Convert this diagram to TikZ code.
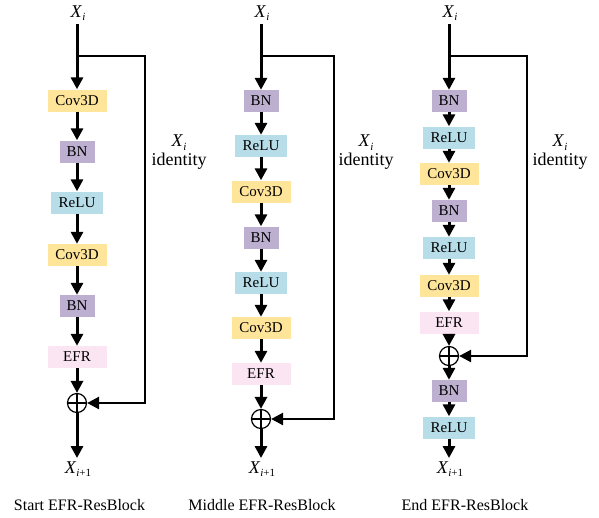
\documentclass[tikz,border=0pt]{standalone}
\usepackage{fontspec}
\setmainfont{Liberation Serif}
\usetikzlibrary{arrows.meta}

\definecolor{covy}{RGB}{255,229,154}
\definecolor{bnp}{RGB}{188,175,208}
\definecolor{relub}{RGB}{183,221,232}
\definecolor{efrp}{RGB}{251,229,243}

\tikzset{
blk/.style={rectangle,inner sep=0pt,minimum height=22pt,font=\fontsize{15}{16}\selectfont},
covbox/.style={blk,fill=covy,minimum width=59pt},
bnbox/.style={blk,fill=bnp,minimum width=35pt},
relubox/.style={blk,fill=relub,minimum width=52pt},
efrbox/.style={blk,fill=efrp,minimum width=59pt},
sumnode/.style={circle,draw,line width=1.2pt,minimum size=19pt,inner sep=0pt},
flow/.style={line width=3pt,-{Triangle[length=12pt,width=12pt]}},
idline/.style={line width=2.5pt,line join=miter,-{Triangle[length=12pt,width=12pt]}},
xlab/.style={font=\fontsize{18}{20}\selectfont,inner sep=3pt},
idlab/.style={font=\fontsize{18}{19}\selectfont,align=center},
captxt/.style={font=\fontsize{16}{18}\selectfont}
}
\newcommand{\xin}{\textit{X}\raisebox{-0.45ex}{\fontsize{11}{12}\selectfont\textit{i}}}
\newcommand{\xout}{\textit{X}\raisebox{-0.45ex}{\fontsize{11}{12}\selectfont\textit{i}+1}}

\begin{document}
\begin{tikzpicture}[x=1pt,y=-1pt]
\useasboundingbox (0,0) rectangle (599,517);

\node[xlab] (inA) at (78,13) {\xin};
\coordinate (brA) at (77,56);
\coordinate (crA) at (145,56);
\node[covbox] (covA1) at (77,100.5) {Cov3D};
\node[bnbox] (bnA1) at (77,151.5) {BN};
\node[relubox] (reluA1) at (77,202.5) {ReLU};
\node[covbox] (covA2) at (77,255) {Cov3D};
\node[bnbox] (bnA2) at (77,306) {BN};
\node[efrbox] (efrA) at (77,357) {EFR};
\node[sumnode] (sumA) at (77,403) {};
\node[xlab] (outA) at (78,469) {\xout};
\node[idlab] (idA) at (179,152) {\xin\\identity};
\node[captxt] (capA) at (79.5,505) {Start EFR-ResBlock};
\draw[flow] (inA.south -| brA) -- (covA1);
\draw[flow] (covA1) -- (bnA1);
\draw[flow] (bnA1) -- (reluA1);
\draw[flow] (reluA1) -- (covA2);
\draw[flow] (covA2) -- (bnA2);
\draw[flow] (bnA2) -- (efrA);
\draw[flow] (efrA) -- (sumA);
\draw[flow] (sumA) -- (outA.north -| sumA);
\draw[idline] (brA) -- (crA) |- (sumA);
\draw[line width=1.2pt] (sumA.north) -- (sumA.south) (sumA.west) -- (sumA.east);

\node[xlab] (inB) at (262,13) {\xin};
\coordinate (brB) at (261,56);
\coordinate (crB) at (334,56);
\node[bnbox] (bnB1) at (261,101) {BN};
\node[relubox] (reluB1) at (261,146) {ReLU};
\node[covbox] (covB1) at (261,191.5) {Cov3D};
\node[bnbox] (bnB2) at (261,237.5) {BN};
\node[relubox] (reluB2) at (261,283) {ReLU};
\node[covbox] (covB2) at (261,328) {Cov3D};
\node[efrbox] (efrB) at (261,374) {EFR};
\node[sumnode] (sumB) at (261,419) {};
\node[xlab] (outB) at (262,469) {\xout};
\node[idlab] (idB) at (366,152) {\xin\\identity};
\node[captxt] (capB) at (262,505) {Middle EFR-ResBlock};
\draw[flow] (inB.south -| brB) -- (bnB1);
\draw[flow] (bnB1) -- (reluB1);
\draw[flow] (reluB1) -- (covB1);
\draw[flow] (covB1) -- (bnB2);
\draw[flow] (bnB2) -- (reluB2);
\draw[flow] (reluB2) -- (covB2);
\draw[flow] (covB2) -- (efrB);
\draw[flow] (efrB) -- (sumB);
\draw[flow] (sumB) -- (outB.north -| sumB);
\draw[idline] (brB) -- (crB) |- (sumB);
\draw[line width=1.2pt] (sumB.north) -- (sumB.south) (sumB.west) -- (sumB.east);

\node[xlab] (inC) at (450,13) {\xin};
\coordinate (brC) at (449,56);
\coordinate (crC) at (527,56);
\node[bnbox] (bnC1) at (449,101) {BN};
\node[relubox] (reluC1) at (449,137.5) {ReLU};
\node[covbox] (covC1) at (449,174) {Cov3D};
\node[bnbox] (bnC2) at (449,211) {BN};
\node[relubox] (reluC2) at (449,248) {ReLU};
\node[covbox] (covC2) at (449,286) {Cov3D};
\node[efrbox] (efrC) at (449,322.5) {EFR};
\node[sumnode] (sumC) at (449,356) {};
\node[bnbox] (bnC3) at (449,391) {BN};
\node[relubox] (reluC3) at (449,427.5) {ReLU};
\node[xlab] (outC) at (450,469) {\xout};
\node[idlab] (idC) at (560,152) {\xin\\identity};
\node[captxt] (capC) at (465,505) {End EFR-ResBlock};
\draw[flow] (inC.south -| brC) -- (bnC1);
\draw[flow] (bnC1) -- (reluC1);
\draw[flow] (reluC1) -- (covC1);
\draw[flow] (covC1) -- (bnC2);
\draw[flow] (bnC2) -- (reluC2);
\draw[flow] (reluC2) -- (covC2);
\draw[flow] (covC2) -- (efrC);
\draw[flow] (efrC) -- (sumC);
\draw[flow] (sumC) -- (bnC3);
\draw[flow] (bnC3) -- (reluC3);
\draw[flow] (reluC3) -- (outC.north -| sumC);
\draw[idline] (brC) -- (crC) |- (sumC);
\draw[line width=1.2pt] (sumC.north) -- (sumC.south) (sumC.west) -- (sumC.east);
\end{tikzpicture}
\end{document}
